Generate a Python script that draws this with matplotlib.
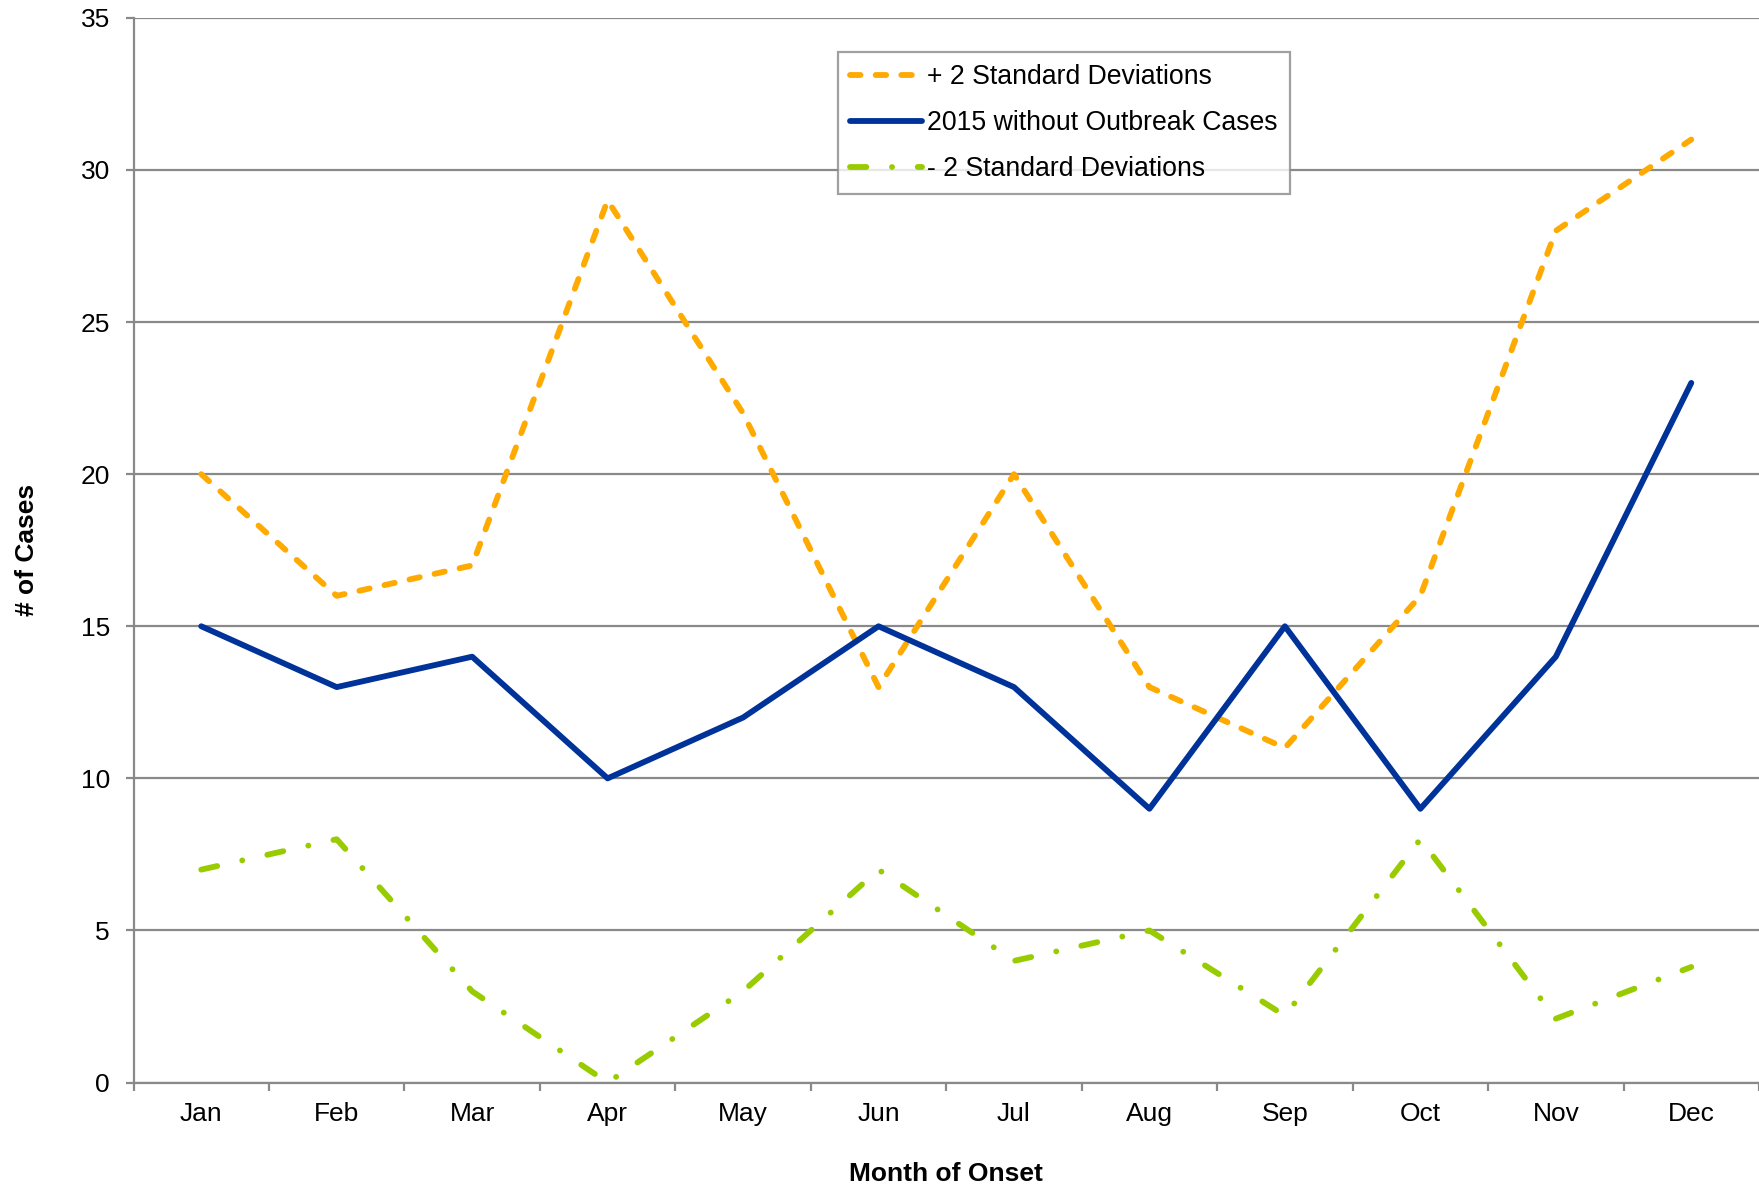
import matplotlib
matplotlib.use("Agg")
import matplotlib.pyplot as plt

plt.rcParams['font.family'] = ['Liberation Sans', 'DejaVu Sans']

months = ["Jan", "Feb", "Mar", "Apr", "May", "Jun", "Jul", "Aug", "Sep", "Oct", "Nov", "Dec"]
plus2sd = [20, 16, 17, 29, 22, 13, 20, 13, 11, 16, 28, 31]
cases2015 = [15, 13, 14, 10, 12, 15, 13, 9, 15, 9, 14, 23]
minus2sd = [7, 8, 3, 0, 3, 7, 4, 5, 2.2, 8, 2.1, 3.8]

orange = "#FFAA00"
blue = "#003399"
green = "#99CC00"
gray = "#898989"

fig = plt.figure(figsize=(17.59, 11.89), dpi=100)
ax = fig.add_axes([0.0759, 0.0895, 0.9241, 0.8955])

x = list(range(len(months)))
lw = 4.2
l1, = ax.plot(x, plus2sd, color=orange, lw=lw, dashes=(1.8, 2.6),
              dash_capstyle='round', solid_capstyle='round', label="+ 2 Standard Deviations")
l2, = ax.plot(x, cases2015, color=blue, lw=lw, solid_capstyle='round',
              label="2015 without Outbreak Cases")
l3, = ax.plot(x, minus2sd, color=green, lw=lw, dashes=(2.8, 4.4, 0.01, 4.4),
              dash_capstyle='round', label="- 2 Standard Deviations")

ax.set_xlim(-0.5, 11.5)
ax.set_ylim(0, 35)
ax.set_yticks(range(0, 36, 5))
ax.yaxis.grid(True, color=gray, lw=1.6)
ax.set_axisbelow(True)

ax.set_xticks([i - 0.5 for i in range(13)])
ax.set_xticklabels([])
ax.set_xticks(x, minor=True)
ax.set_xticklabels(months, minor=True)
ax.tick_params(axis='x', which='minor', length=0, pad=14, labelsize=19)
ax.tick_params(axis='x', which='major', length=6, width=1.6, color=gray, direction='out')
ax.tick_params(axis='y', length=6, width=1.6, color=gray, labelsize=19, pad=11)

for s in ['top', 'right']:
    ax.spines[s].set_visible(False)
for s in ['left', 'bottom']:
    ax.spines[s].set_color(gray)
    ax.spines[s].set_linewidth(1.6)

ax.set_xlabel("Month of Onset", fontsize=19, fontweight='bold', va='center')
ax.xaxis.set_label_coords(0.5, -0.0863)
ax.set_ylabel("# of Cases", fontsize=19, fontweight='bold', va='center')
ax.yaxis.set_label_coords(-0.0653, 0.5)

leg = ax.legend(handles=[l1, l2, l3], loc='upper left', bbox_to_anchor=(0.4334, 0.968),
                fontsize=19.2, frameon=True, fancybox=False, edgecolor=gray,
                handlelength=2.7, handletextpad=0.2, borderpad=0.45, labelspacing=0.76,
                borderaxespad=0)
leg.get_frame().set_linewidth(1.6)

fig.savefig("out.png", dpi=100, facecolor="white")
